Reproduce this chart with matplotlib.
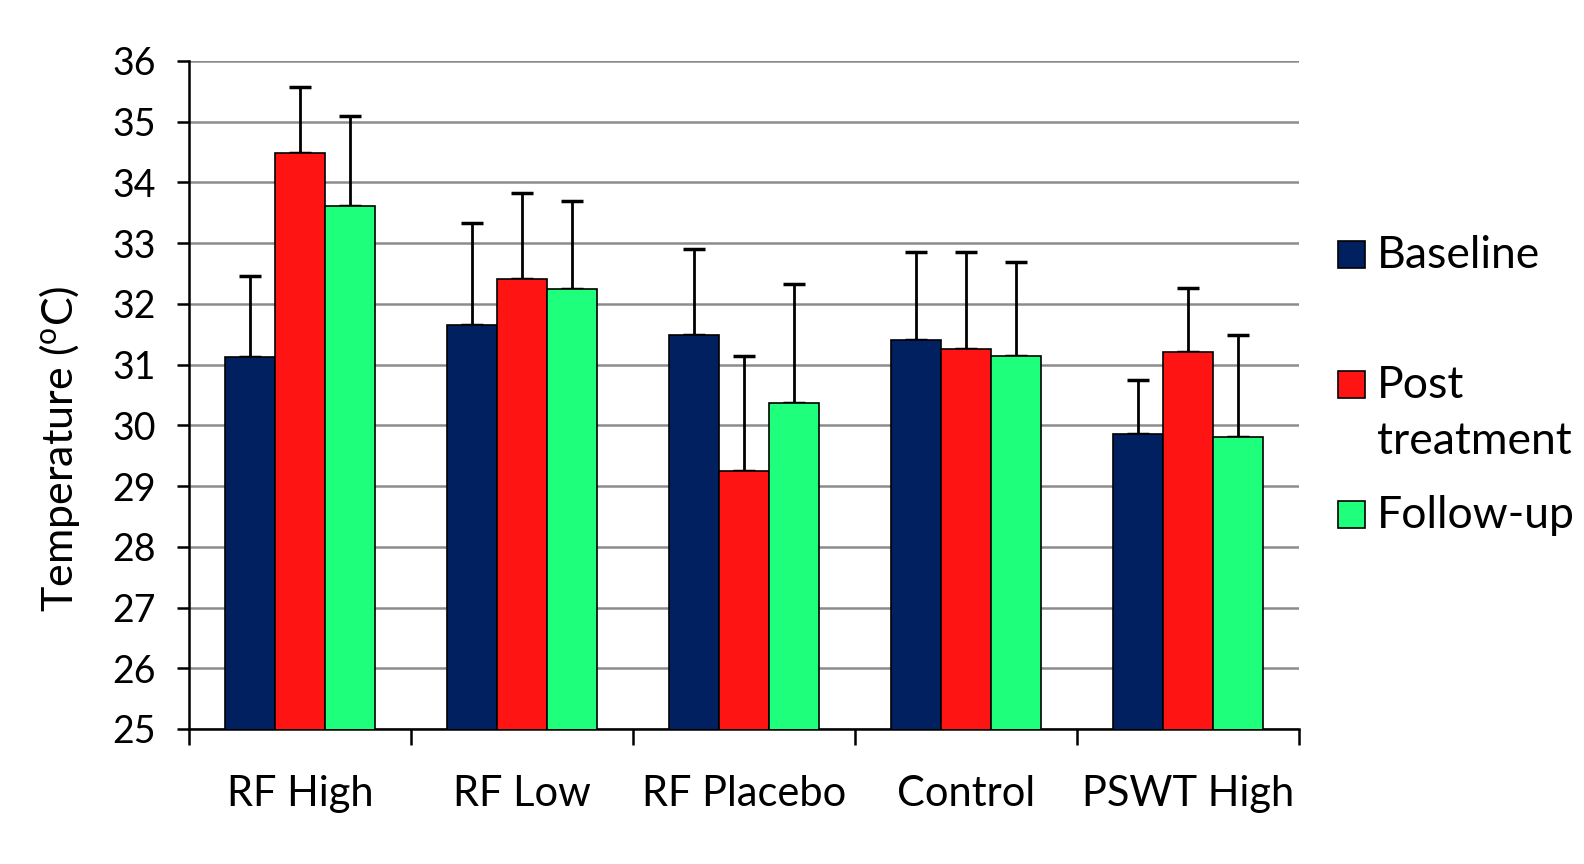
import numpy as np
import matplotlib.pyplot as plt
from matplotlib.patches import Rectangle

plt.rcParams["font.family"] = ["Lato", "DejaVu Sans"]

# data
groups = ["RF High", "RF Low", "RF Placebo", "Control", "PSWT High"]
series = ["Baseline", "Post\ntreatment", "Follow-up"]
baseline = [31.13, 31.65, 31.48, 31.40, 29.85]
post = [34.49, 32.41, 29.25, 31.26, 31.20]
follow = [33.62, 32.24, 30.37, 31.15, 29.80]
baseline_err = [1.33, 1.69, 1.43, 1.46, 0.90]
post_err = [1.09, 1.41, 1.90, 1.60, 1.06]
follow_err = [1.48, 1.45, 1.96, 1.54, 1.68]

colors = ["#002060", "#ff1414", "#1eff7c"]

fig = plt.figure(figsize=(15.84, 8.64), dpi=100)
ax = fig.add_axes([0.1193, 0.1563, 0.7007, 0.7731])

x = np.arange(len(groups))
w = 0.225
vals = [baseline, post, follow]
errs = [baseline_err, post_err, follow_err]
bars = []
for i in range(3):
    pos = x + (i - 1) * w
    b = ax.bar(pos, vals[i], w, bottom=0, color=colors[i], edgecolor="black",
               linewidth=1.2, zorder=3)
    bars.append(b)
    ax.errorbar(pos, vals[i], yerr=[np.zeros(len(groups)), errs[i]], fmt="none",
                ecolor="black", elinewidth=2, capsize=8, capthick=2.5, zorder=2)

ax.set_ylim(25, 36)
ax.set_xlim(-0.5, len(groups) - 0.5)
ax.set_yticks(np.arange(25, 37, 1))
ax.yaxis.grid(True, color="#8c8c8c", linewidth=1.8, zorder=0)
ax.set_axisbelow(True)

# category boundaries as major ticks, names on minor ticks
ax.set_xticks(np.arange(-0.5, len(groups), 1))
ax.set_xticklabels([])
ax.set_xticks(x, minor=True)
ax.set_xticklabels(groups, minor=True, fontsize=30)
ax.tick_params(axis="x", which="major", direction="out", length=11.5, width=1.8)
ax.tick_params(axis="x", which="minor", length=0, pad=33)
ax.tick_params(axis="y", direction="out", length=8.6, width=1.8, labelsize=27, pad=15)

for s in ["top", "right"]:
    ax.spines[s].set_visible(False)
for s in ["left", "bottom"]:
    ax.spines[s].set_linewidth(1.8)

ax.set_ylabel(r"Temperature ($\mathregular{^o}$C)", fontsize=31, va="center")
ax.yaxis.set_label_coords(-0.117, 0.42)

# legend drawn by hand, entries spaced by first line
sq_x, sq_w, sq_h = 0.8447, 0.01705, 0.03125
txt_x = 0.8695
line_gap = 0.0648
ys = [0.6898, 0.5394, 0.3889]
for name, b, yb in zip(series, bars, ys):
    fig.patches.append(Rectangle((sq_x, yb), sq_w, sq_h, transform=fig.transFigure,
                                 facecolor=b.patches[0].get_facecolor(),
                                 edgecolor="black", linewidth=1.2))
    for k, line in enumerate(name.split("\n")):
        fig.text(txt_x, yb - k * line_gap, line, fontsize=32, va="baseline", ha="left")

fig.savefig("out.png", dpi=100)
